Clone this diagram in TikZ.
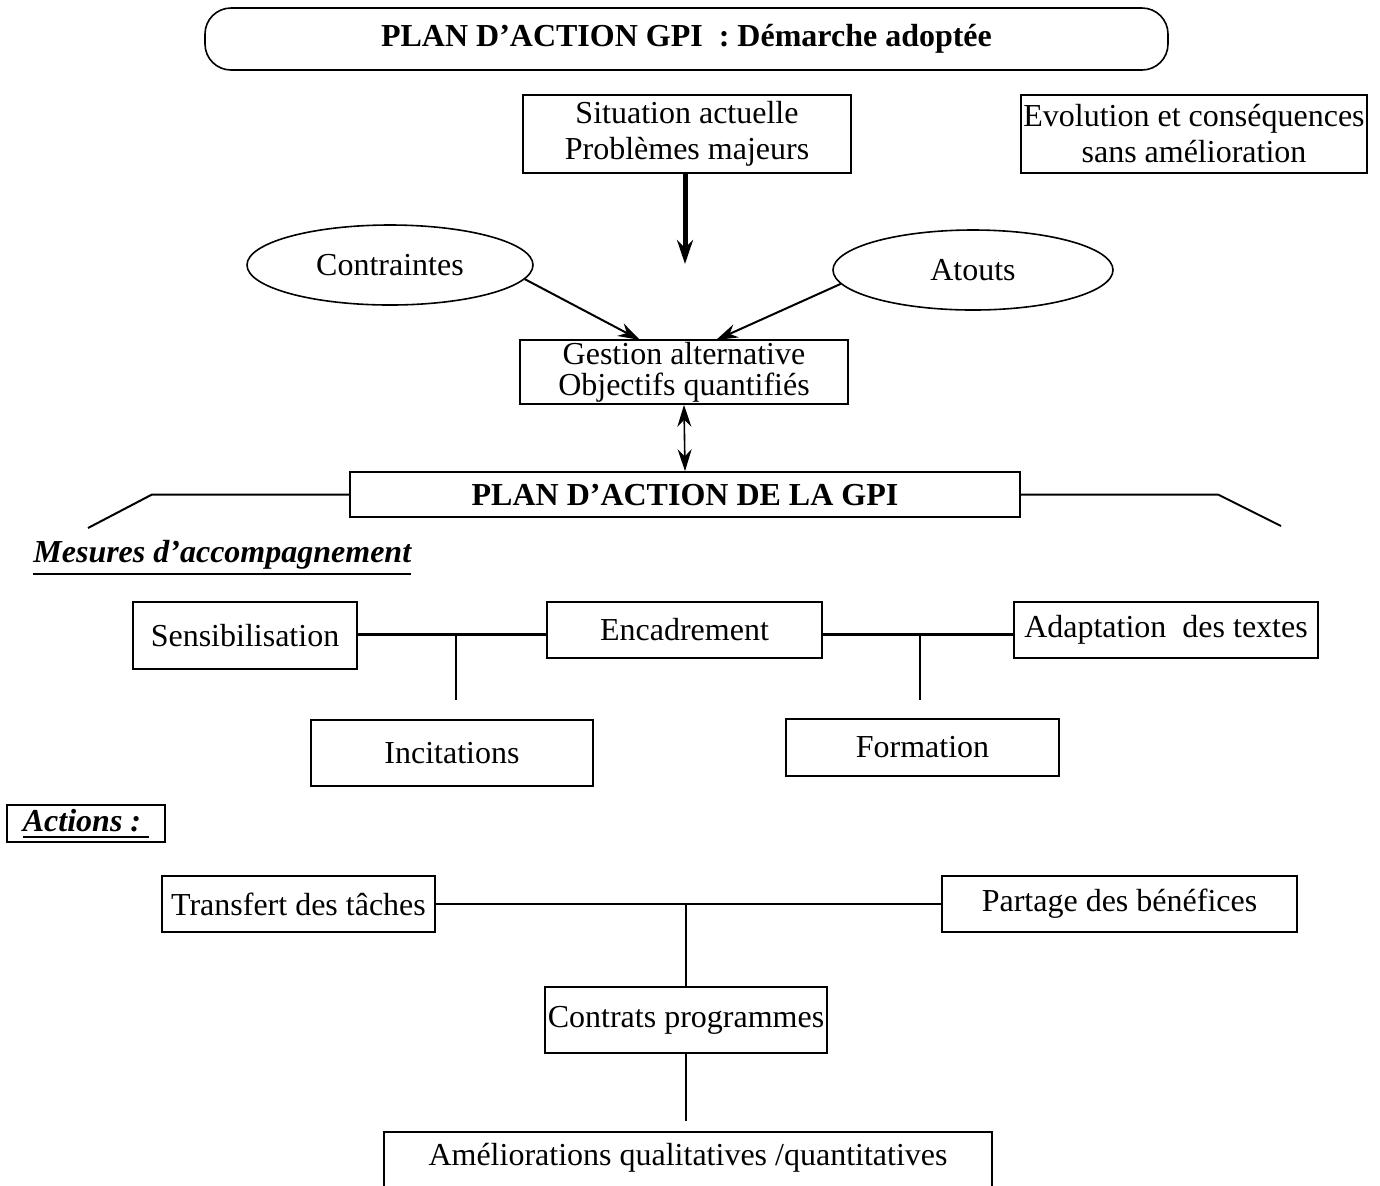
\documentclass[tikz,border=0pt]{standalone}
\usepackage{fontspec}
\setmainfont{Liberation Serif}
\usetikzlibrary{arrows.meta,shapes.geometric}
% underline with a 1pt rule set 2pt below the baseline
\newcommand{\ulthick}[1]{\leavevmode\vtop{\hbox{#1}\kern2pt\hrule height 1pt}}

\begin{document}
\begin{tikzpicture}[x=0.5pt,y=-0.5pt,
  every node/.style={font=\fontsize{16}{18}\selectfont},
  box/.style={draw, line width=0.8pt, inner sep=0pt, align=center},
  oval/.style={ellipse, draw, line width=0.8pt, inner sep=0pt},
  bold/.style={font=\bfseries\fontsize{16}{18}\selectfont},
  heading/.style={font=\bfseries\itshape\fontsize{16}{18}\selectfont},
  link/.style={line width=1pt},
  heavy/.style={line width=1.5pt},
  tip/.style={-{Stealth[length=11pt,width=7pt]}, line width=1pt},
]
\useasboundingbox (0,0) rectangle (1380,1185);
\clip (0,0) rectangle (1380,1185);

% title banner
\node[box, bold, rounded corners=13pt, minimum width=481.5pt, minimum height=31pt]
  (title) at (686.5,39) {PLAN D’ACTION GPI\ \ : Démarche adoptée};

% diagnosis part
\node[box, minimum width=164pt, minimum height=39pt] (sit) at (687,134)
  {Situation actuelle\\Problèmes majeurs};
\node[box, minimum width=173pt, minimum height=39pt] (evo) at (1194,134)
  {Evolution et conséquences\\sans amélioration};
\node[oval, minimum width=143pt, minimum height=40pt] (contr) at (390,265) {Contraintes};
\node[oval, minimum width=140pt, minimum height=40pt] (atouts) at (973,270) {Atouts};
\node[box, minimum width=164pt, minimum height=32pt, font=\fontsize{16}{15.5}\selectfont]
  (gest) at (684,372) {Gestion alternative\\Objectifs quantifiés};
\node[box, bold, minimum width=335pt, minimum height=22.5pt] (plan) at (685,494.5)
  {PLAN D’ACTION DE LA GPI};

\coordinate (sitEnd) at (685,264);
\draw[line width=2.5pt, -{Stealth[length=12pt,width=8pt]}] (sit.south -| sitEnd) -- (sitEnd);
\coordinate (g1) at (640,340);
\coordinate (g2) at (716,340);
\draw[tip] (contr.-6) -- (g1);
\draw[tip] (atouts.186) -- (g2);
\draw[line width=0.8pt, {Stealth[length=11pt,width=7pt]}-{Stealth[length=11pt,width=7pt]}]
  (gest.south) -- (plan.north);

\coordinate (lk1) at (152,494.5);
\coordinate (lk2) at (88,528);
\draw[link] (plan.west) -- (lk1) -- (lk2);
\coordinate (rk1) at (1218,494.5);
\coordinate (rk2) at (1281,526);
\draw[link] (plan.east) -- (rk1) -- (rk2);

% accompanying measures
\node[heading, anchor=base west, inner sep=0pt] (mes) at (33,562)
  {\ulthick{Mesures d’accompagnement}};

\node[box, minimum width=112pt, minimum height=33.5pt] (sens) at (245,635.5) {Sensibilisation};
\node[box, minimum width=137.5pt, minimum height=28pt] (enc) at (684.5,630) {Encadrement};
\node[box, minimum width=152pt, minimum height=28pt] (adapt) at (1166,630) {Adaptation\ \ des textes};
\node[box, minimum width=141pt, minimum height=33pt] (incit) at (452,753) {Incitations};
\node[box, minimum width=136.5pt, minimum height=28.5pt] (form) at (922.5,747.5) {Formation};

\draw[heavy] (sens.east |- 0,634) -- (enc.west |- 0,634);
\draw[heavy] (enc.east |- 0,634) -- (adapt.west |- 0,634);
\coordinate (j1) at (456,634);
\coordinate (j1e) at (456,700);
\draw[link] (j1) -- (j1e);
\coordinate (j2) at (920,634);
\coordinate (j2e) at (920,700);
\draw[link] (j2) -- (j2e);

% actions
\node[box, heading, minimum width=79pt, minimum height=18.5pt] (act) at (86,823.5)
  {\ulthick{Actions :~}};

\node[box, minimum width=136.5pt, minimum height=28pt] (transf) at (298.5,904) {Transfert des tâches};
\node[box, minimum width=177.5pt, minimum height=28pt] (part) at (1119.5,904) {Partage des bénéfices};
\node[box, minimum width=141pt, minimum height=33pt] (contrats) at (686,1020) {Contrats programmes};
\node[box, anchor=north, minimum width=304pt, inner ysep=6pt, text height=11pt, text depth=40pt]
  (amel) at (688,1131) {Améliorations qualitatives /quantitatives};

\draw[link] (transf) -- (part);
\coordinate (j3) at (686,904);
\draw[link] (j3) -- (contrats.north);
\coordinate (j4) at (686,1121);
\draw[link] (contrats.south) -- (j4);
\end{tikzpicture}
\end{document}
